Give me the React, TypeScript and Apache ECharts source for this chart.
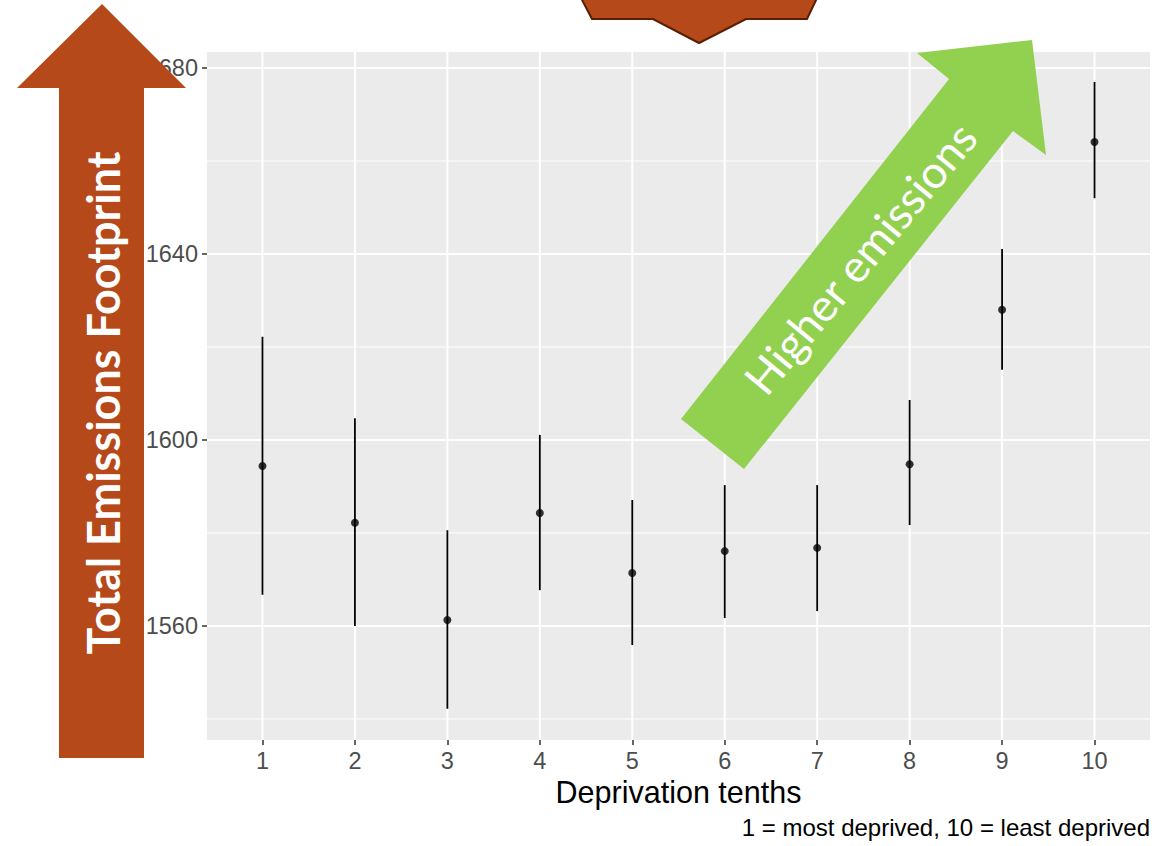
import React, { useEffect, useRef } from "react";
import * as echarts from "echarts";

const deciles = [1, 2, 3, 4, 5, 6, 7, 8, 9, 10];
const means = [1594.4, 1582.2, 1561.3, 1584.3, 1571.4, 1576.1, 1576.8, 1594.8, 1628.0, 1664.1];
const lowers = [1566.7, 1560.0, 1542.2, 1567.7, 1555.9, 1561.7, 1563.2, 1581.7, 1615.1, 1652.0];
const uppers = [1622.2, 1604.7, 1580.6, 1601.1, 1587.1, 1590.3, 1590.3, 1608.6, 1641.1, 1677.0];
const yMajorTicks = [1560, 1600, 1640, 1680];
const yMinorTicks = [1540, 1580, 1620, 1660];

const xTitle = "Deprivation tenths";
const caption = "1 = most deprived, 10 = least deprived";
const leftArrowText = "Total Emissions Footprint";
const greenArrowText = "Higher emissions";

const ORANGE = "#B6491A";
const GREEN = "#92D050";

export default function App() {
  const ref = useRef<HTMLDivElement>(null);
  useEffect(() => {
    document.body.style.margin = "0";
    const chart = echarts.init(ref.current!, null, { renderer: "svg" });
    const gridLine = (major: boolean, horizontal: boolean) => (params: any, api: any) => {
      const cs = params.coordSys;
      const p = api.coord([api.value(0), api.value(1)]);
      const shape = horizontal
        ? { x1: cs.x, y1: p[1], x2: cs.x + cs.width, y2: p[1] }
        : { x1: p[0], y1: cs.y, x2: p[0], y2: cs.y + cs.height };
      return { type: "line", shape, style: { stroke: "#FFFFFF", lineWidth: major ? 2 : 1 } };
    };
    const option: any = {
      animation: false,
      grid: {
        left: 207,
        right: 22,
        top: 52,
        bottom: 106,
        show: true,
        backgroundColor: "#EBEBEB",
        borderWidth: 0,
      },
      xAxis: {
        type: "value",
        min: 0.4,
        max: 10.6,
        axisLine: { show: false },
        splitLine: { show: false },
        axisTick: {
          show: true,
          length: 5,
          customValues: deciles,
          lineStyle: { color: "#333333", width: 1.5 },
        },
        axisLabel: {
          customValues: deciles,
          formatter: (v: number) => String(v),
          color: "#4D4D4D",
          fontSize: 23.5,
          fontFamily: "Liberation Sans, Arial, sans-serif",
          margin: 9,
        },
      },
      yAxis: {
        type: "value",
        min: 1535.48,
        max: 1683.44,
        axisLine: { show: false },
        splitLine: { show: false },
        axisTick: {
          show: true,
          length: 5,
          customValues: yMajorTicks,
          lineStyle: { color: "#333333", width: 1.5 },
        },
        axisLabel: {
          customValues: yMajorTicks,
          formatter: (v: number) => String(v),
          color: "#4D4D4D",
          fontSize: 23.5,
          fontFamily: "Liberation Sans, Arial, sans-serif",
          margin: 9,
        },
      },
      series: [
        {
          type: "custom",
          z: 1,
          silent: true,
          renderItem: gridLine(false, true),
          data: yMinorTicks.map((v) => [1, v]),
          encode: { x: 0, y: 1 },
        },
        {
          type: "custom",
          z: 1,
          silent: true,
          renderItem: gridLine(true, true),
          data: yMajorTicks.map((v) => [1, v]),
          encode: { x: 0, y: 1 },
        },
        {
          type: "custom",
          z: 1,
          silent: true,
          renderItem: gridLine(true, false),
          data: deciles.map((d) => [d, 1600]),
          encode: { x: 0, y: 1 },
        },
        {
          type: "custom",
          z: 2,
          renderItem: (params: any, api: any) => {
            const x = api.value(0);
            const p1 = api.coord([x, api.value(1)]);
            const p2 = api.coord([x, api.value(2)]);
            return {
              type: "line",
              shape: { x1: p1[0], y1: p1[1], x2: p2[0], y2: p2[1] },
              style: { stroke: "#000000", lineWidth: 1.8 },
            };
          },
          data: deciles.map((d, i) => [d, lowers[i], uppers[i]]),
          encode: { x: 0, y: [1, 2] },
        },
        {
          type: "scatter",
          z: 3,
          symbol: "circle",
          symbolSize: 8,
          itemStyle: { color: "#000000" },
          data: deciles.map((d, i) => [d, means[i]]),
        },
      ],
      graphic: [
        {
          type: "polygon",
          z: 100,
          shape: {
            points: [
              [102, 4],
              [186, 88],
              [144, 88],
              [144, 758],
              [59, 758],
              [59, 88],
              [17, 88],
            ],
          },
          style: { fill: ORANGE },
        },
        {
          type: "text",
          z: 101,
          x: 103,
          y: 403,
          rotation: Math.PI / 2,
          style: {
            text: leftArrowText,
            fill: "#FFFFFF",
            fontSize: 45,
            fontWeight: "bold",
            fontFamily: "Lato, 'Open Sans', sans-serif",
            textAlign: "center",
            textVerticalAlign: "middle",
            align: "center",
            verticalAlign: "middle",
          },
        },
        {
          type: "polygon",
          z: 100,
          shape: {
            points: [
              [580, -4],
              [592, 19],
              [653, 19],
              [699, 43],
              [746, 19],
              [807, 19],
              [818, -4],
            ],
          },
          style: { fill: ORANGE, stroke: "#5A1E04", lineWidth: 2 },
        },
        {
          type: "polygon",
          z: 100,
          shape: {
            points: [
              [1032, 40],
              [1046, 155],
              [1013, 131],
              [744, 469],
              [681, 419],
              [949, 79],
              [917, 53],
            ],
          },
          style: { fill: GREEN },
        },
        {
          type: "text",
          z: 101,
          x: 860,
          y: 258,
          rotation: (50.5 * Math.PI) / 180,
          style: {
            text: greenArrowText,
            fill: "#FFFFFF",
            fontSize: 45,
            fontFamily: "Lato, 'Open Sans', sans-serif",
            textAlign: "center",
            textVerticalAlign: "middle",
            align: "center",
            verticalAlign: "middle",
          },
        },
        {
          type: "text",
          z: 101,
          x: 678.5,
          y: 792,
          style: {
            text: xTitle,
            fill: "#000000",
            fontSize: 30.5,
            fontFamily: "Liberation Sans, Arial, sans-serif",
            textAlign: "center",
            textVerticalAlign: "middle",
            align: "center",
            verticalAlign: "middle",
          },
        },
        {
          type: "text",
          z: 101,
          x: 1150,
          y: 827,
          style: {
            text: caption,
            fill: "#000000",
            fontSize: 24,
            fontFamily: "Liberation Sans, Arial, sans-serif",
            textAlign: "right",
            textVerticalAlign: "middle",
            align: "right",
            verticalAlign: "middle",
          },
        },
      ],
    };
    chart.setOption(option);
    return () => chart.dispose();
  }, []);
  return <div ref={ref} style={{ position: "absolute", left: 0, top: 0, width: 1172, height: 846 }} />;
}
